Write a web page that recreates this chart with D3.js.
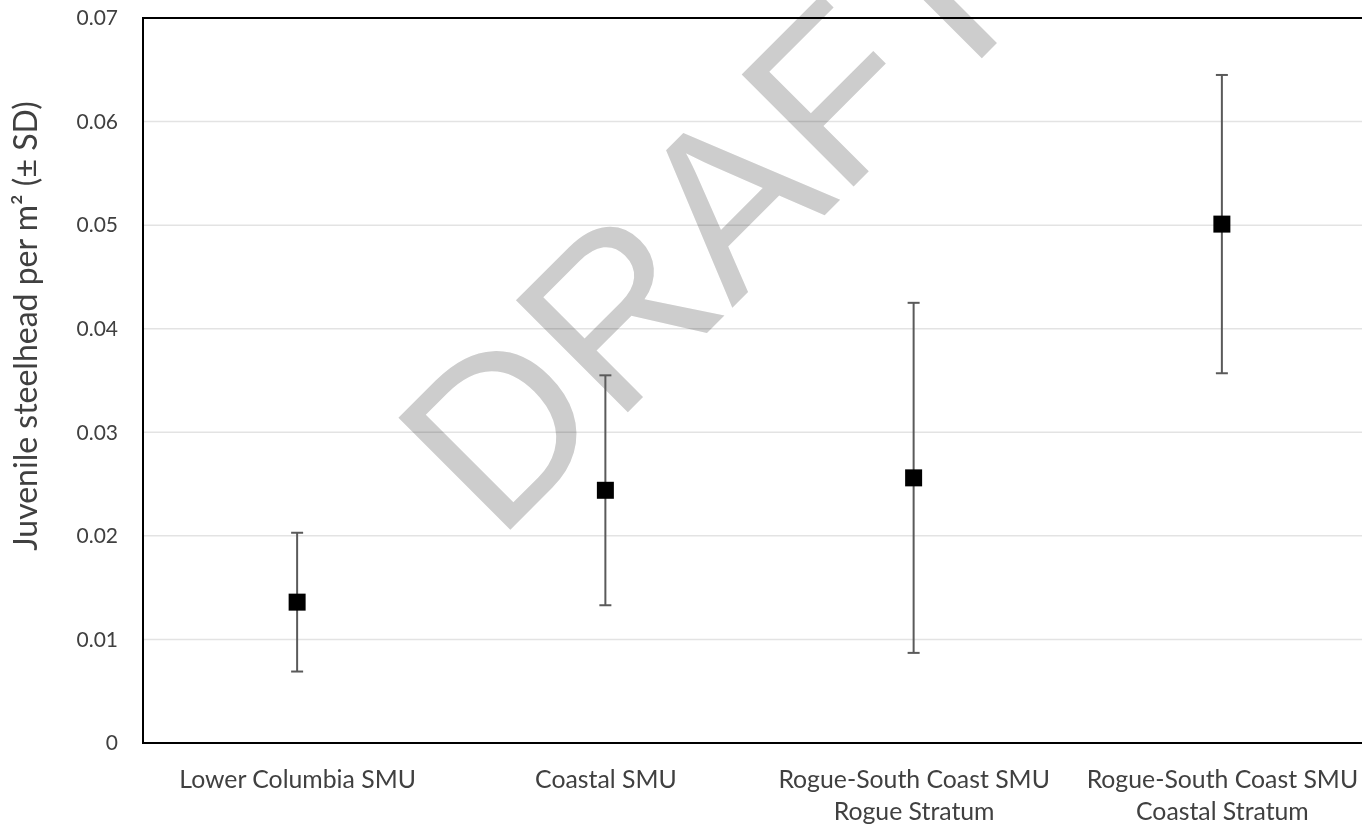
<!DOCTYPE html>
<html>
<head>
<meta charset="utf-8">
<script src="https://cdn.jsdelivr.net/npm/d3@7"></script>
<style>
  html, body { margin: 0; padding: 0; background: #fff; }
  svg { display: block; }
  .grid line { mix-blend-mode: multiply; }
</style>
</head>
<body>
<svg id="chart" width="1362" height="825"></svg>
<script>
// Juvenile steelhead density by stratum: mean and standard deviation
const categories = [
  ["Lower Columbia SMU"],
  ["Coastal SMU"],
  ["Rogue-South Coast SMU", "Rogue Stratum"],
  ["Rogue-South Coast SMU", "Coastal Stratum"]
];
const means = [0.0136, 0.0244, 0.0256, 0.0501];
const sds   = [0.0067, 0.0111, 0.0169, 0.0144];
const yTicks = [0, 0.01, 0.02, 0.03, 0.04, 0.05, 0.06, 0.07];
const yTitle = "Juvenile steelhead per m\u00B2 (\u00B1 SD)";
const watermark = "DRAFT";

const svg = d3.select("#chart");
const plotLeft = 143, plotTop = 18, plotBottom = 743, plotRight = 1376;
const labelFont = "Lato, 'Open Sans', sans-serif";

const keys = categories.map(c => c.join(" / "));
const x = d3.scalePoint().domain(keys).range([plotLeft, plotRight]).padding(0.5);
const y = d3.scaleLinear().domain([0, 0.07]).range([plotBottom, plotTop]);

svg.append("rect").attr("width", 1362).attr("height", 825).attr("fill", "#fff");

// Diagonal watermark across the plot
svg.append("text")
  .attr("transform", "translate(497,543) rotate(-45)")
  .attr("font-family", "'Liberation Sans', Arial, sans-serif")
  .attr("font-size", 230)
  .attr("fill", "#cdcdcd")
  .text(watermark);

// Horizontal gridlines
const grid = svg.append("g").attr("class", "grid");
grid.selectAll("line")
  .data(yTicks.filter(t => t > 0 && t < 0.07))
  .join("line")
  .attr("x1", plotLeft).attr("x2", plotRight)
  .attr("y1", d => y(d)).attr("y2", d => y(d))
  .attr("stroke", "#e3e3e3").attr("stroke-width", 1.5);

// Y axis tick labels
const yAxis = svg.append("g")
  .attr("transform", `translate(${plotLeft},0)`)
  .call(d3.axisLeft(y).tickValues(yTicks).tickFormat(d => d === 0 ? "0" : d3.format(".2f")(d)).tickSize(0).tickPadding(25));
yAxis.select(".domain").remove();
yAxis.selectAll("text")
  .attr("font-family", labelFont)
  .attr("font-size", 21)
  .attr("fill", "#404040");

// X axis category labels (multi-line)
const xAxis = svg.append("g")
  .attr("transform", `translate(0,${plotBottom})`)
  .call(d3.axisBottom(x).tickSize(0).tickFormat(""));
xAxis.select(".domain").remove();
xAxis.selectAll(".tick").each(function(d, i) {
  const t = d3.select(this).append("text")
    .attr("font-family", labelFont)
    .attr("font-size", 24.8)
    .attr("fill", "#404040")
    .attr("text-anchor", "middle");
  categories[i].forEach((line, j) => {
    t.append("tspan").attr("x", 0).attr("y", 45 + j * 32).text(line);
  });
});

// Y axis title
svg.append("text")
  .attr("transform", "translate(37,326) rotate(-90)")
  .attr("text-anchor", "middle")
  .attr("font-family", labelFont)
  .attr("font-size", 32)
  .attr("fill", "#404040")
  .text(yTitle);

// Error bars (mean ± SD)
const pts = keys.map((k, i) => ({ k, m: means[i], sd: sds[i] }));
const bars = svg.append("g");
bars.selectAll("line.stem").data(pts).join("line").attr("class", "stem")
  .attr("x1", d => x(d.k)).attr("x2", d => x(d.k))
  .attr("y1", d => y(d.m + d.sd)).attr("y2", d => y(d.m - d.sd))
  .attr("stroke", "#5a5a5a").attr("stroke-width", 2);
[1, -1].forEach(s => {
  bars.selectAll(null).data(pts).join("line")
    .attr("x1", d => x(d.k) - 6).attr("x2", d => x(d.k) + 6)
    .attr("y1", d => y(d.m + s * d.sd)).attr("y2", d => y(d.m + s * d.sd))
    .attr("stroke", "#5a5a5a").attr("stroke-width", 2);
});

// Mean markers
svg.append("g").selectAll("path").data(pts).join("path")
  .attr("transform", d => `translate(${x(d.k)},${y(d.m)})`)
  .attr("d", d3.symbol(d3.symbolSquare, 17 * 17))
  .attr("fill", "#000");

// Plot frame: top, left and bottom edges
const frame = svg.append("g").attr("stroke", "#000").attr("stroke-width", 2).attr("fill", "none");
frame.append("line").attr("x1", plotLeft).attr("x2", plotRight).attr("y1", plotTop).attr("y2", plotTop);
frame.append("line").attr("x1", plotLeft).attr("x2", plotLeft).attr("y1", plotTop - 1).attr("y2", plotBottom + 1);
frame.append("line").attr("x1", plotLeft).attr("x2", plotRight).attr("y1", plotBottom).attr("y2", plotBottom);
</script>
</body>
</html>
